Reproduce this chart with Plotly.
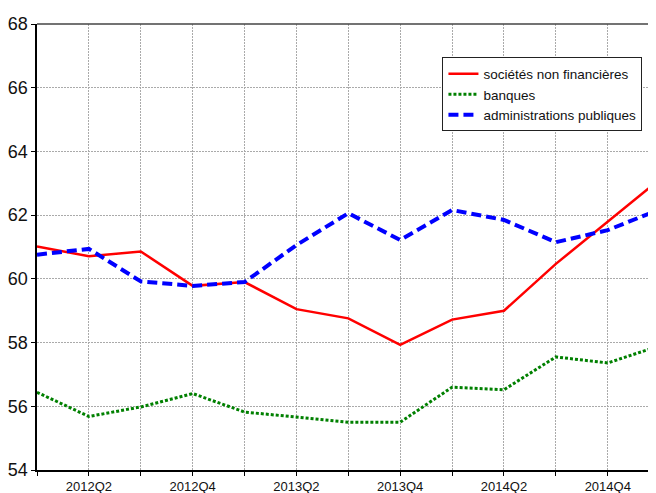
import plotly.graph_objects as go

quarters = ["2012Q1", "2012Q2", "2012Q3", "2012Q4", "2013Q1", "2013Q2", "2013Q3",
            "2013Q4", "2014Q1", "2014Q2", "2014Q3", "2014Q4", "2015Q1"]
snf = [61.02, 60.71, 60.86, 59.78, 59.90, 59.05, 58.76, 57.93, 58.72, 59.00, 60.47, 61.78, 63.12]
banques = [56.44, 55.68, 55.98, 56.40, 55.82, 55.66, 55.50, 55.50, 56.60, 56.52, 57.55, 57.36, 57.90]
apu = [60.76, 60.94, 59.92, 59.78, 59.90, 61.06, 62.06, 61.22, 62.16, 61.85, 61.15, 61.53, 62.18]
yticks = [54, 56, 58, 60, 62, 64, 66, 68]

x = list(range(len(quarters)))
ticktext = [q if i % 2 == 1 else "" for i, q in enumerate(quarters)]

fig = go.Figure()
fig.add_trace(go.Scatter(x=x, y=snf, mode="lines", name="sociétés non financières",
                         line=dict(color="#FF0000", width=2.5)))
fig.add_trace(go.Scatter(x=x, y=banques, mode="lines", name="banques",
                         line=dict(color="#008000", width=3, dash="3px,2px")))
fig.add_trace(go.Scatter(x=x, y=apu, mode="lines", name="administrations publiques",
                         line=dict(color="#0000FF", width=4, dash="10px,5px")))

fig.update_layout(
    width=648, height=485,
    margin=dict(l=29, r=0, t=16, b=23, autoexpand=False),
    paper_bgcolor="white", plot_bgcolor="white",
    font=dict(family="Liberation Sans, Arial, sans-serif", color="#111"),
    showlegend=True,
    legend=dict(x=0.655, y=0.925, xanchor="left", yanchor="top",
                bgcolor="white", bordercolor="#222", borderwidth=1,
                font=dict(size=13.5, color="#111"), itemwidth=30,
                tracegroupgap=0),
    xaxis=dict(range=[0, 11.93], tickvals=x, ticktext=ticktext,
               showgrid=True, gridcolor="#aaa", griddash="2px,1px", gridwidth=1,
               showline=True, linecolor="#000", linewidth=1.5,
               ticks="outside", ticklen=4, tickcolor="#000",
               tickfont=dict(size=13), zeroline=False, automargin=False),
    yaxis=dict(range=[54, 68], tickvals=yticks,
               showgrid=True, gridcolor="#aaa", griddash="2px,1px", gridwidth=1,
               showline=True, linecolor="#000", linewidth=1.5,
               ticks="outside", ticklen=4, tickcolor="#000",
               tickfont=dict(size=18), zeroline=False, automargin=False),
    shapes=[dict(type="line", xref="paper", yref="paper", x0=0, x1=1, y0=1, y1=1,
                 line=dict(color="#444", width=1.5))],
)

fig.write_html("out.html")
